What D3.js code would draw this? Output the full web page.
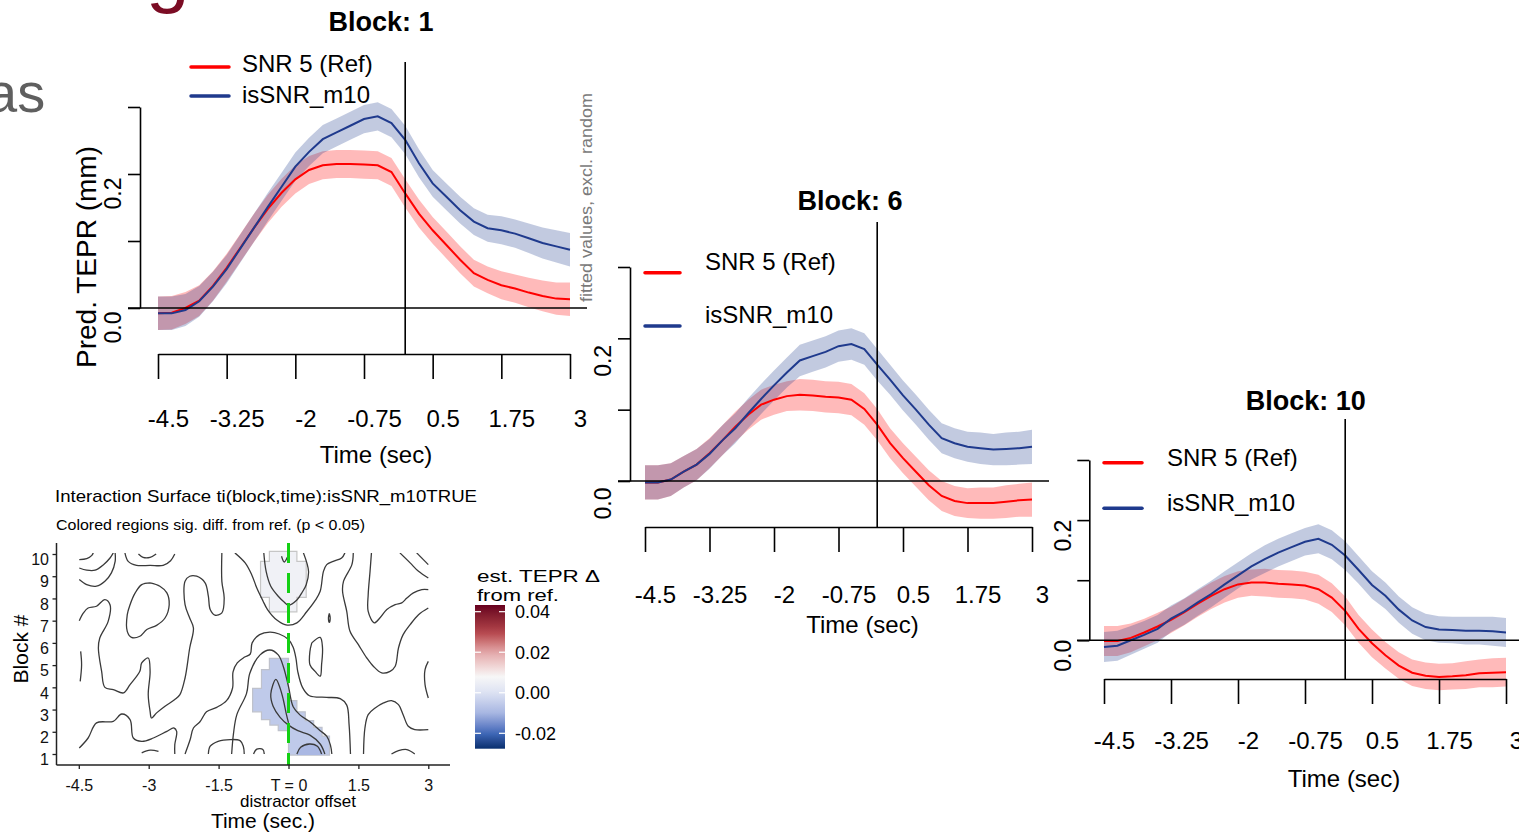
<!DOCTYPE html>
<html><head><meta charset="utf-8">
<script src="https://cdn.jsdelivr.net/npm/d3@7"></script>
<style>
body{margin:0;background:#fff;overflow:hidden;}
svg{display:block;font-family:"Liberation Sans",Arial,sans-serif;}
</style>
</head><body>
<svg id="c" width="1519" height="832"></svg>
<script>
// ---------------- DATA ----------------
const timeGrid = [-4.5,-4.25,-4,-3.75,-3.5,-3.25,-3,-2.75,-2.5,-2.25,-2,-1.75,-1.5,-1.25,-1,-0.75,-0.5,-0.25,0,0.25,0.5,0.75,1,1.25,1.5,1.75,2,2.25,2.5,2.75,3];

const refBlock1 = [-0.008,-0.007,0.0,0.011,0.033,0.06,0.09,0.12,0.148,0.172,0.192,0.206,0.213,0.215,0.215,0.214,0.213,0.203,0.171,0.141,0.116,0.094,0.072,0.052,0.042,0.034,0.029,0.023,0.018,0.014,0.013];
const m10Block1 = [-0.008,-0.008,-0.003,0.01,0.032,0.058,0.089,0.12,0.151,0.181,0.211,0.233,0.252,0.262,0.272,0.282,0.286,0.276,0.251,0.216,0.186,0.166,0.146,0.129,0.119,0.116,0.111,0.104,0.097,0.092,0.087];
const ciBlock1 = [0.025,0.025,0.024,0.023,0.022,0.021,0.021,0.021,0.021,0.021,0.021,0.021,0.021,0.021,0.021,0.021,0.021,0.021,0.021,0.021,0.020,0.020,0.020,0.020,0.020,0.021,0.021,0.022,0.023,0.024,0.025];

const refBlock6 = [-0.002,-0.002,0.002,0.013,0.023,0.039,0.057,0.076,0.093,0.107,0.114,0.119,0.121,0.12,0.118,0.117,0.114,0.101,0.079,0.053,0.032,0.013,-0.006,-0.021,-0.028,-0.031,-0.031,-0.031,-0.029,-0.027,-0.026];
const m10Block6 = [-0.002,-0.002,0.002,0.013,0.023,0.038,0.057,0.074,0.095,0.115,0.134,0.152,0.169,0.175,0.181,0.189,0.192,0.185,0.163,0.142,0.12,0.1,0.079,0.06,0.053,0.048,0.046,0.044,0.045,0.046,0.048];
const ciBlock6 = [0.024,0.024,0.023,0.022,0.022,0.021,0.021,0.021,0.021,0.021,0.021,0.021,0.022,0.022,0.022,0.022,0.022,0.022,0.022,0.021,0.021,0.021,0.021,0.021,0.021,0.021,0.022,0.022,0.023,0.023,0.024];

const refBlock10 = [-0.001,-0.001,0.004,0.013,0.023,0.034,0.047,0.061,0.074,0.085,0.093,0.096,0.096,0.094,0.093,0.091,0.085,0.071,0.049,0.019,-0.005,-0.025,-0.042,-0.054,-0.059,-0.061,-0.060,-0.058,-0.055,-0.054,-0.053];
const m10Block10 = [-0.011,-0.009,0.0,0.009,0.019,0.036,0.048,0.063,0.077,0.093,0.108,0.123,0.135,0.146,0.155,0.164,0.169,0.159,0.141,0.117,0.092,0.074,0.051,0.033,0.022,0.018,0.017,0.016,0.016,0.015,0.013];
const ciBlock10 = [0.025,0.025,0.024,0.023,0.023,0.022,0.022,0.022,0.022,0.022,0.022,0.022,0.023,0.023,0.023,0.023,0.024,0.024,0.024,0.023,0.023,0.022,0.022,0.022,0.022,0.022,0.022,0.023,0.023,0.024,0.024];

const seriesNames = ["SNR 5 (Ref)", "isSNR_m10"];
const panelTitles = ["Block: 1", "Block: 6", "Block: 10"];
const xTicks = [-4.5,-3.25,-2,-0.75,0.5,1.75,3];
const xTickLabels = ["-4.5","-3.25","-2","-0.75","0.5","1.75","3"];
const yTicks = [0,0.1,0.2,0.3];
const yTickLabels = ["0.0","","0.2",""];

// interaction surface
const surfXTicks = [-4.5,-3,-1.5,0,1.5,3];
const surfXTickLabels = ["-4.5","-3","-1.5","T = 0","1.5","3"];
const surfYTicks = [1,2,3,4,5,6,7,8,9,10];
const contourLines = [
  [[-4.49,9.75],[-4.33,9.79],[-4.22,9.94],[-4.19,10.05]],
  [[-4.49,9.37],[-4.33,9.27],[-4.15,9.27],[-3.97,9.52],[-3.83,9.82],[-3.76,10.05]],
  [[-4.49,8.85],[-4.33,8.62],[-4.12,8.55],[-3.94,8.77],[-3.8,9.15],[-3.72,9.67],[-3.72,10.05]],
  [[-3.51,10.05],[-3.44,9.67],[-3.26,9.49],[-2.97,9.49],[-2.69,9.49],[-2.53,9.7],[-2.44,10.0]],
  [[-3.22,10.0],[-3.12,9.85],[-2.97,9.85],[-2.84,10.0]],
  [[-2.97,8.7],[-2.76,8.55],[-2.61,8.25],[-2.56,7.72],[-2.65,7.12],[-2.83,6.79],[-3.04,6.6],[-3.19,6.3],[-3.37,6.25],[-3.46,6.52],[-3.46,7.27],[-3.4,7.72],[-3.29,8.25],[-3.15,8.62],[-2.97,8.7]],
  [[-4.49,7.0],[-4.4,7.35],[-4.3,7.57],[-4.12,7.65],[-3.94,7.95],[-3.83,7.72],[-3.87,6.97],[-4.05,6.22],[-4.08,5.77],[-4.01,4.72],[-3.94,4.0],[-3.76,3.9],[-3.54,3.75],[-3.4,4.12],[-3.19,4.72],[-3.15,5.1],[-3.01,5.32],[-2.97,4.72],[-3.01,3.67],[-2.97,2.92],[-2.94,2.62],[-2.83,2.85],[-2.65,3.15],[-2.44,3.45],[-2.33,3.67],[-2.22,4.42],[-2.12,5.77],[-2.04,6.67],[-2.12,7.12],[-2.22,7.72],[-2.22,8.77],[-2.12,9.0],[-1.97,9.0],[-1.79,8.7],[-1.72,8.1],[-1.68,7.5],[-1.58,7.25],[-1.43,7.35],[-1.38,8.02],[-1.43,8.77],[-1.43,10.05]],
  [[-4.46,5.62],[-4.44,5.02],[-4.47,4.27]],
  [[-4.49,1.27],[-4.3,1.72],[-4.12,2.4],[-3.76,2.47],[-3.58,2.8],[-3.4,2.55],[-3.33,1.72],[-3.15,1.57],[-2.9,1.72],[-2.61,2.02],[-2.46,2.17],[-2.4,2.02],[-2.44,1.42],[-2.44,1.0]],
  [[-3.15,1.05],[-2.97,1.17],[-2.79,1.12]],
  [[-2.22,1.0],[-2.11,1.65],[-2.04,2.17],[-1.9,2.45],[-1.76,2.9],[-1.54,3.1],[-1.33,3.4],[-1.2,3.97],[-1.19,4.7],[-1.1,5.1],[-0.95,5.35],[-0.82,5.5],[-0.78,6.0],[-0.62,6.37],[-0.4,6.48],[-0.2,6.4],[0.0,6.15],[0.1,5.8],[0.16,5.3],[0.2,4.7],[0.3,4.0],[0.45,3.62],[0.82,3.55],[1.11,3.49],[1.25,3.2],[1.3,2.32],[1.33,1.0]],
  [[-1.22,1.0],[-1.18,1.93],[-1.11,2.76],[-0.9,3.73],[-0.83,4.63],[-0.61,5.46],[-0.4,5.68],[-0.22,5.46],[-0.11,4.93],[0.0,4.03],[0.1,3.13],[0.25,2.75],[0.46,2.45],[0.68,2.05],[0.82,1.8],[0.9,1.4],[0.93,1.0]],
  [[0.78,1.0],[0.68,1.45],[0.46,1.85],[0.2,2.05],[0.0,2.3],[-0.18,2.65],[-0.33,3.15],[-0.38,3.7],[-0.27,4.36],[-0.18,3.96],[-0.11,3.43],[-0.05,2.83],[0.0,2.4]],
  [[0.18,1.0],[0.26,1.3],[0.45,1.45],[0.62,1.35],[0.71,1.0]],
  [[-1.72,1.0],[-1.68,1.35],[-1.51,1.57],[-1.25,1.65],[-1.04,1.6],[-0.97,1.35],[-0.95,1.0]],
  [[-0.75,1.0],[-0.68,1.22],[-0.55,1.2],[-0.52,1.0]],
  [[-1.15,10.05],[-0.93,9.6],[-0.79,9.07],[-0.68,8.47],[-0.55,7.9],[-0.45,7.5],[-0.25,7.03],[-0.03,6.8],[0.18,6.9],[0.39,7.4],[0.57,7.9],[0.68,8.32],[0.75,9.22],[0.82,9.52],[0.96,9.67],[1.14,9.82],[1.21,10.05]],
  [[-0.53,10.05],[-0.48,9.22],[-0.38,8.55],[-0.22,8.1],[-0.1,7.85],[0.0,7.7],[0.18,7.93],[0.3,8.3],[0.38,8.62],[0.43,9.22],[0.32,10.05]],
  [[-0.15,9.9],[-0.09,9.64],[-0.025,9.85]],
  [[1.39,10.05],[1.36,9.52],[1.18,8.77],[1.16,8.32],[1.25,7.42],[1.32,6.52],[1.5,5.92],[1.68,5.32],[1.82,4.95],[2.0,4.65],[2.18,4.72],[2.29,4.95],[2.36,5.77],[2.46,6.37],[2.61,6.82],[2.79,7.27],[3.0,7.57]],
  [[1.78,10.05],[1.75,9.22],[1.71,8.17],[1.71,7.42],[1.84,6.9],[1.96,7.12],[2.11,7.5],[2.29,7.72],[2.43,7.8],[2.54,8.02],[2.68,8.25],[2.86,8.4],[3.0,8.4]],
  [[2.39,10.05],[2.61,9.6],[2.79,9.22],[3.0,8.92]],
  [[2.75,10.05],[3.0,9.52]],
  [[3.0,5.17],[2.93,4.8],[2.93,4.12],[3.0,3.52]],
  [[1.61,1.0],[1.64,2.17],[1.71,2.77],[1.86,3.07],[2.04,3.3],[2.21,3.4],[2.36,3.22],[2.46,2.77],[2.57,2.25],[2.71,2.1],[3.0,2.1]],
  [[2.21,1.0],[2.36,1.15],[2.54,1.2],[2.71,1.0]],
  [[0.5,6.0],[0.68,6.25],[0.73,5.77],[0.71,5.02],[0.68,4.5],[0.57,4.72],[0.46,5.02],[0.46,5.62],[0.5,6.0]],
  [[0.876,7.32],[0.895,7.12],[0.876,6.92],[0.857,7.12],[0.876,7.32]]
];
const sigUpper = [[-0.41,10.12],[0.18,10.12],[0.18,9.67],[0.38,9.67],[0.38,8.05],[0.18,8.05],[0.18,7.4],[-0.41,7.4],[-0.41,8.05],[-0.6,8.05],[-0.6,9.67],[-0.41,9.67]];
const sigUpperValue = 0.0058;
const sigLower = [[-0.41,5.3],[0.0,5.3],[0.0,3.4],[0.18,3.4],[0.18,2.9],[0.36,2.9],[0.36,2.5],[0.54,2.5],[0.54,2.2],[0.72,2.2],[0.72,1.8],[0.88,1.8],[0.88,0.95],[0.0,0.95],[0.0,2.05],[-0.22,2.05],[-0.22,2.3],[-0.4,2.3],[-0.4,2.55],[-0.58,2.55],[-0.58,2.9],[-0.77,2.9],[-0.77,3.95],[-0.58,3.95],[-0.58,4.8],[-0.41,4.8]];
const sigLowerValue = -0.0055;
const sigCore = [[0.18,0.95],[0.22,1.25],[0.32,1.42],[0.45,1.5],[0.62,1.42],[0.72,1.15],[0.74,0.95]];
const sigCoreValue = -0.0095;
const colorStops = [-0.0276,-0.02,-0.01,0.0,0.008,0.02,0.03,0.0433];
const colorStopColors = ["#082f6e","#3f69b9","#a7b6e2","#dde2f3","#f7f7f7","#e3a7a9","#b3434a","#67001f"];
const legendTicks = [-0.02,0.0,0.02,0.04];
const legendTickLabels = ["-0.02","0.00","0.02","0.04"];

// ---------------- DRAWING ----------------
const svg = d3.select("#c");
const RED = "#ff0000", BLUE = "#1f3a8d";
const FONT = '"Liberation Sans", Arial, sans-serif';

// background slide fragments
svg.append("text").attr("x", -14).attr("y", 112).attr("font-size", 56).attr("fill", "#5f5f5f").text("as");
svg.append("text").attr("x", 146).attr("y", -2).attr("font-size", 78).attr("fill", "#7b0c24").text("g");

const panels = [
  {ref: refBlock1, m10: m10Block1, ci: ciBlock1, title: panelTitles[0],
   x0:158, x1:570, yZero:308, yTop:107, axisX:140, xAxisY:354, zl:[128,587], vTop:62,
   titleX:381, titleY:30.7, legX:[191,229], legY:[67,96], legTX:242, legBase:[72,103],
   xLabBase:426.7, xTitleX:376, xTitleBase:463, yLabOff:19},
  {ref: refBlock6, m10: m10Block6, ci: ciBlock6, title: panelTitles[1],
   x0:645, x1:1032, yZero:481, yTop:267, axisX:630, xAxisY:527, zl:[618,1049], vTop:222,
   titleX:850, titleY:210, legX:[645,680], legY:[272.7,326], legTX:705, legBase:[270,323],
   xLabBase:602.7, xTitleX:862.5, xTitleBase:633, yLabOff:22},
  {ref: refBlock10, m10: m10Block10, ci: ciBlock10, title: panelTitles[2],
   x0:1104, x1:1506, yZero:640.3, yTop:460, axisX:1089.3, xAxisY:679, zl:[1077,1519], vTop:419,
   titleX:1305.7, titleY:410, legX:[1104,1142], legY:[462.7,508.3], legTX:1167, legBase:[466,511],
   xLabBase:749.3, xTitleX:1344, xTitleBase:786.7, yLabOff:15}
];

panels.forEach(cfg => {
  const g = svg.append("g");
  const x = d3.scaleLinear().domain([-4.5,3]).range([cfg.x0,cfg.x1]);
  const y = d3.scaleLinear().domain([0,0.3]).range([cfg.yZero,cfg.yTop]);
  const band = vals => d3.area()
    .x((d,i)=>x(timeGrid[i]))
    .y0((d,i)=>y(vals[i]-cfg.ci[i]))
    .y1((d,i)=>y(vals[i]+cfg.ci[i]))(vals);
  const line = vals => d3.line().x((d,i)=>x(timeGrid[i])).y(d=>y(d))(vals);
  g.append("path").attr("d", band(cfg.ref)).attr("fill", RED).attr("fill-opacity", 0.27);
  g.append("path").attr("d", band(cfg.m10)).attr("fill", BLUE).attr("fill-opacity", 0.27);
  g.append("path").attr("d", line(cfg.ref)).attr("fill","none").attr("stroke",RED).attr("stroke-width",2);
  g.append("path").attr("d", line(cfg.m10)).attr("fill","none").attr("stroke",BLUE).attr("stroke-width",2);

  // zero line and t=0 line
  g.append("line").attr("x1",cfg.zl[0]).attr("x2",cfg.zl[1]).attr("y1",y(0)).attr("y2",y(0))
    .attr("stroke","#000").attr("stroke-width",1.6);
  g.append("line").attr("x1",x(0)).attr("x2",x(0)).attr("y1",cfg.vTop).attr("y2",cfg.xAxisY)
    .attr("stroke","#000").attr("stroke-width",1.6);

  // x axis
  const xa = g.append("g").attr("transform",`translate(0,${cfg.xAxisY})`)
    .call(d3.axisBottom(x).tickValues(xTicks).tickFormat((d,i)=>xTickLabels[i]).tickSize(25).tickSizeOuter(0));
  xa.attr("font-family",FONT).attr("font-size",null);
  xa.selectAll("path,line").attr("stroke","#000").attr("stroke-width",1.6);
  xa.selectAll("text").attr("y", cfg.xLabBase - cfg.xAxisY).attr("dy", null).attr("x", 10)
    .attr("font-size", 24).attr("fill","#000");

  // y axis
  const ya = g.append("g").attr("transform",`translate(${cfg.axisX},0)`)
    .call(d3.axisLeft(y).tickValues(yTicks).tickFormat((d,i)=>yTickLabels[i]).tickSize(12).tickSizeOuter(0));
  ya.attr("font-family",FONT).attr("font-size",null);
  ya.selectAll("path,line").attr("stroke","#000").attr("stroke-width",1.6);
  ya.selectAll("text").attr("x",0).attr("y",0).attr("dy","0.36em")
    .attr("transform",`translate(-27,${cfg.yLabOff}) rotate(-90)`)
    .attr("text-anchor","middle").attr("font-size",23).attr("fill","#000");

  // title
  g.append("text").attr("x",cfg.titleX).attr("y",cfg.titleY).attr("text-anchor","middle")
    .attr("font-weight","bold").attr("font-size",27).text(cfg.title);
  // axis title
  g.append("text").attr("x",cfg.xTitleX).attr("y",cfg.xTitleBase).attr("text-anchor","middle")
    .attr("font-size",24).text("Time (sec)");
  // legend
  [RED, BLUE].forEach((c,i)=>{
    g.append("line").attr("x1",cfg.legX[0]).attr("x2",cfg.legX[1]).attr("y1",cfg.legY[i]).attr("y2",cfg.legY[i])
      .attr("stroke",c).attr("stroke-width",3.5).attr("stroke-linecap","round");
    g.append("text").attr("x",cfg.legTX).attr("y",cfg.legBase[i]).attr("font-size",24).text(seriesNames[i]);
  });
});

// panel 1 y title and note
svg.append("text").attr("transform","translate(86,257) rotate(-90)").attr("text-anchor","middle")
  .attr("dy","0.35em").attr("font-size",28).text("Pred. TEPR (mm)");
svg.append("text").attr("transform","translate(586,197.5) rotate(-90)").attr("text-anchor","middle")
  .attr("dy","0.35em").attr("font-size",16).attr("fill","#7a7a7a")
  .attr("textLength",209).attr("lengthAdjust","spacingAndGlyphs").text("fitted values, excl. random");

// ---------------- interaction surface ----------------
const sx = d3.scaleLinear().domain([-4.5,3]).range([78.8,428.3]);
const sy = d3.scaleLinear().domain([1,10]).range([754,554]);
const col = d3.scaleLinear().domain(colorStops).range(colorStopColors).interpolate(d3.interpolateLab);
const sg = svg.append("g");

sg.append("text").attr("x",55).attr("y",501.7).attr("font-size",17)
  .attr("textLength",422).attr("lengthAdjust","spacingAndGlyphs")
  .text("Interaction Surface ti(block,time):isSNR_m10TRUE");
sg.append("text").attr("x",56).attr("y",530).attr("font-size",15)
  .attr("textLength",309).attr("lengthAdjust","spacingAndGlyphs")
  .text("Colored regions sig. diff. from ref. (p < 0.05)");

const poly = d3.line().x(d=>sx(d[0])).y(d=>sy(d[1]));
sg.append("path").attr("d", poly(sigUpper)+"Z").attr("fill", col(sigUpperValue))
  .attr("stroke","#c6c6c6").attr("stroke-width",1.2);
sg.append("path").attr("d", poly(sigLower)+"Z").attr("fill", col(sigLowerValue))
  .attr("stroke","#bfc2cc").attr("stroke-width",1.2);
sg.append("path").attr("d", poly(sigCore)+"Z").attr("fill", col(sigCoreValue)).attr("stroke","none");

sg.append("clipPath").attr("id","sclip").append("rect")
  .attr("x",sx(-4.5)-1).attr("y",sy(10.05)).attr("width",sx(3)-sx(-4.5)+2).attr("height",sy(1)-sy(10.05)+1);
const cl = d3.line().x(d=>sx(d[0])).y(d=>sy(d[1])).curve(d3.curveCatmullRom.alpha(0.5));
sg.append("g").attr("clip-path","url(#sclip)").selectAll("path").data(contourLines).join("path")
  .attr("d", d=>cl(d)).attr("fill","none").attr("stroke","#3a3a3a").attr("stroke-width",1.3);

// green dashed line at T = 0
sg.append("line").attr("x1",sx(0)).attr("x2",sx(0)).attr("y1",543).attr("y2",765)
  .attr("stroke","#14d014").attr("stroke-width",3).attr("stroke-dasharray","20,10");

// axes lines
sg.append("line").attr("x1",56.5).attr("x2",56.5).attr("y1",543).attr("y2",765).attr("stroke","#222").attr("stroke-width",1.5);
sg.append("line").attr("x1",56.5).attr("x2",450).attr("y1",765).attr("y2",765).attr("stroke","#222").attr("stroke-width",1.5);

const sxa = sg.append("g").attr("transform","translate(0,765)")
  .call(d3.axisBottom(sx).tickValues(surfXTicks).tickFormat((d,i)=>surfXTickLabels[i]).tickSize(4).tickSizeOuter(0));
sxa.select(".domain").remove();
sxa.attr("font-family",FONT).attr("font-size",null);
sxa.selectAll("line").attr("stroke","#222").attr("stroke-width",1.3);
sxa.selectAll("text").attr("y",26.2).attr("dy",null).attr("font-size",16).attr("fill","#111");

const sya = sg.append("g").attr("transform","translate(56.5,0)")
  .call(d3.axisLeft(sy).tickValues(surfYTicks).tickFormat(d=>String(d)).tickSize(4).tickSizeOuter(0));
sya.select(".domain").remove();
sya.attr("font-family",FONT).attr("font-size",null);
sya.selectAll("line").attr("stroke","#222").attr("stroke-width",1.3);
sya.selectAll("text").attr("x",-7.5).attr("dy","0.67em").attr("font-size",16).attr("fill","#111");

sg.append("text").attr("x",298).attr("y",807).attr("text-anchor","middle").attr("font-size",17).text("distractor offset");
sg.append("text").attr("x",263).attr("y",828).attr("text-anchor","middle").attr("font-size",21).text("Time (sec.)");
sg.append("text").attr("transform","translate(21,649) rotate(-90)").attr("text-anchor","middle")
  .attr("dy","0.35em").attr("font-size",21).text("Block #");

// colour bar
const cbY = d3.scaleLinear().domain([colorStops[0], colorStops[colorStops.length-1]]).range([748.7,605]);
const grad = svg.append("defs").append("linearGradient").attr("id","cbgrad")
  .attr("x1","0").attr("x2","0").attr("y1","1").attr("y2","0");
d3.range(0,1.0001,0.05).forEach(f=>{
  const v = colorStops[0] + f*(colorStops[colorStops.length-1]-colorStops[0]);
  grad.append("stop").attr("offset",f).attr("stop-color",col(v));
});
sg.append("rect").attr("x",475).attr("y",605).attr("width",30).attr("height",143.7).attr("fill","url(#cbgrad)");
legendTicks.forEach((v,i)=>{
  sg.append("line").attr("x1",475).attr("x2",481).attr("y1",cbY(v)).attr("y2",cbY(v)).attr("stroke","#fff").attr("stroke-width",1.2);
  sg.append("line").attr("x1",499).attr("x2",505).attr("y1",cbY(v)).attr("y2",cbY(v)).attr("stroke","#fff").attr("stroke-width",1.2);
  sg.append("text").attr("x",515).attr("y",cbY(v)).attr("dy","0.36em").attr("font-size",18).text(legendTickLabels[i]);
});
sg.append("text").attr("x",477).attr("y",581.7).attr("font-size",17)
  .attr("textLength",123).attr("lengthAdjust","spacingAndGlyphs").text("est. TEPR Δ");
sg.append("text").attr("x",477).attr("y",601).attr("font-size",17)
  .attr("textLength",82).attr("lengthAdjust","spacingAndGlyphs").text("from ref.");
</script>
</body></html>
